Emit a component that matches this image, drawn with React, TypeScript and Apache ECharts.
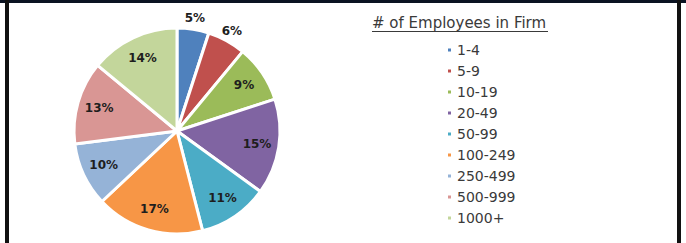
import React, { useEffect, useRef } from "react";
import * as echarts from "echarts";

const categories = ["1-4", "5-9", "10-19", "20-49", "50-99", "100-249", "250-499", "500-999", "1000+"];
const shares = [5, 6, 9, 15, 11, 17, 10, 13, 14];
const colors = ["#4F81BD", "#C0504D", "#9BBB59", "#8064A2", "#4BACC6", "#F79646", "#95B3D7", "#D99694", "#C3D69B"];
const outsideLabels = ["1-4", "5-9"];
const legendTitle = "# of Employees in Firm";

export default function App() {
  const ref = useRef<HTMLDivElement>(null);
  useEffect(() => {
    if (!ref.current) return;
    const chart = echarts.init(ref.current, null, { renderer: "svg" });
    const data = categories.map((c, i) => ({ name: c, value: shares[i], itemStyle: { color: colors[i] } }));
    const labelFont = { fontFamily: "DejaVu Sans", fontSize: 12, fontWeight: "bold" as const, color: "#1e1e1e" };
    const fmt = (p: any) => p.value + "%";
    chart.setOption({
      animation: false,
      backgroundColor: "#ffffff",
      legend: {
        orient: "vertical",
        left: 441,
        top: 38,
        itemWidth: 5,
        itemHeight: 5,
        itemGap: 7,
        icon: "rect",
        data: categories,
        textStyle: { fontFamily: "DejaVu Sans", fontSize: 14, color: "#3a3a3a" },
      },
      graphic: [
        { type: "rect", shape: { x: 0, y: 0, width: 686, height: 3 }, style: { fill: "#0b1322" } },
        { type: "rect", shape: { x: 5, y: 0, width: 4, height: 243 }, style: { fill: "#111" } },
        { type: "rect", shape: { x: 677, y: 0, width: 4, height: 243 }, style: { fill: "#111" } },
        {
          type: "text",
          left: 372,
          top: 15,
          style: { text: legendTitle, fontFamily: "DejaVu Sans", fontSize: 15, fill: "#3a3a3a" },
        },
        { type: "line", shape: { x1: 372, y1: 31.5, x2: 548, y2: 31.5 }, style: { stroke: "#3a3a3a", lineWidth: 1 } },
      ],
      series: [
        {
          type: "pie",
          center: [177, 131],
          radius: [0, 103],
          startAngle: 90,
          clockwise: true,
          silent: true,
          label: { show: false },
          labelLine: { show: false },
          itemStyle: { borderColor: "#ffffff", borderWidth: 3 },
          data,
        },
        {
          type: "pie",
          center: [177, 131],
          radius: [54, 102],
          startAngle: 90,
          clockwise: true,
          silent: true,
          legendHoverLink: false,
          itemStyle: { color: "transparent" },
          label: { show: true, position: "inside", formatter: fmt, ...labelFont },
          labelLine: { show: false },
          data: categories.map((c, i) => ({
            name: c + " ",
            value: shares[i],
            label: { show: !outsideLabels.includes(c) },
          })),
        },
        {
          type: "pie",
          center: [177, 131],
          radius: [102, 120],
          startAngle: 90,
          clockwise: true,
          silent: true,
          itemStyle: { color: "transparent" },
          label: { show: true, position: "inside", formatter: fmt, ...labelFont },
          labelLine: { show: false },
          data: categories.map((c, i) => ({
            name: c + "  ",
            value: shares[i],
            label: { show: outsideLabels.includes(c) },
          })),
        },
      ],
    });
    return () => chart.dispose();
  }, []);
  return <div ref={ref} style={{ position: "fixed", left: 0, top: 0, width: 686, height: 243 }} />;
}
